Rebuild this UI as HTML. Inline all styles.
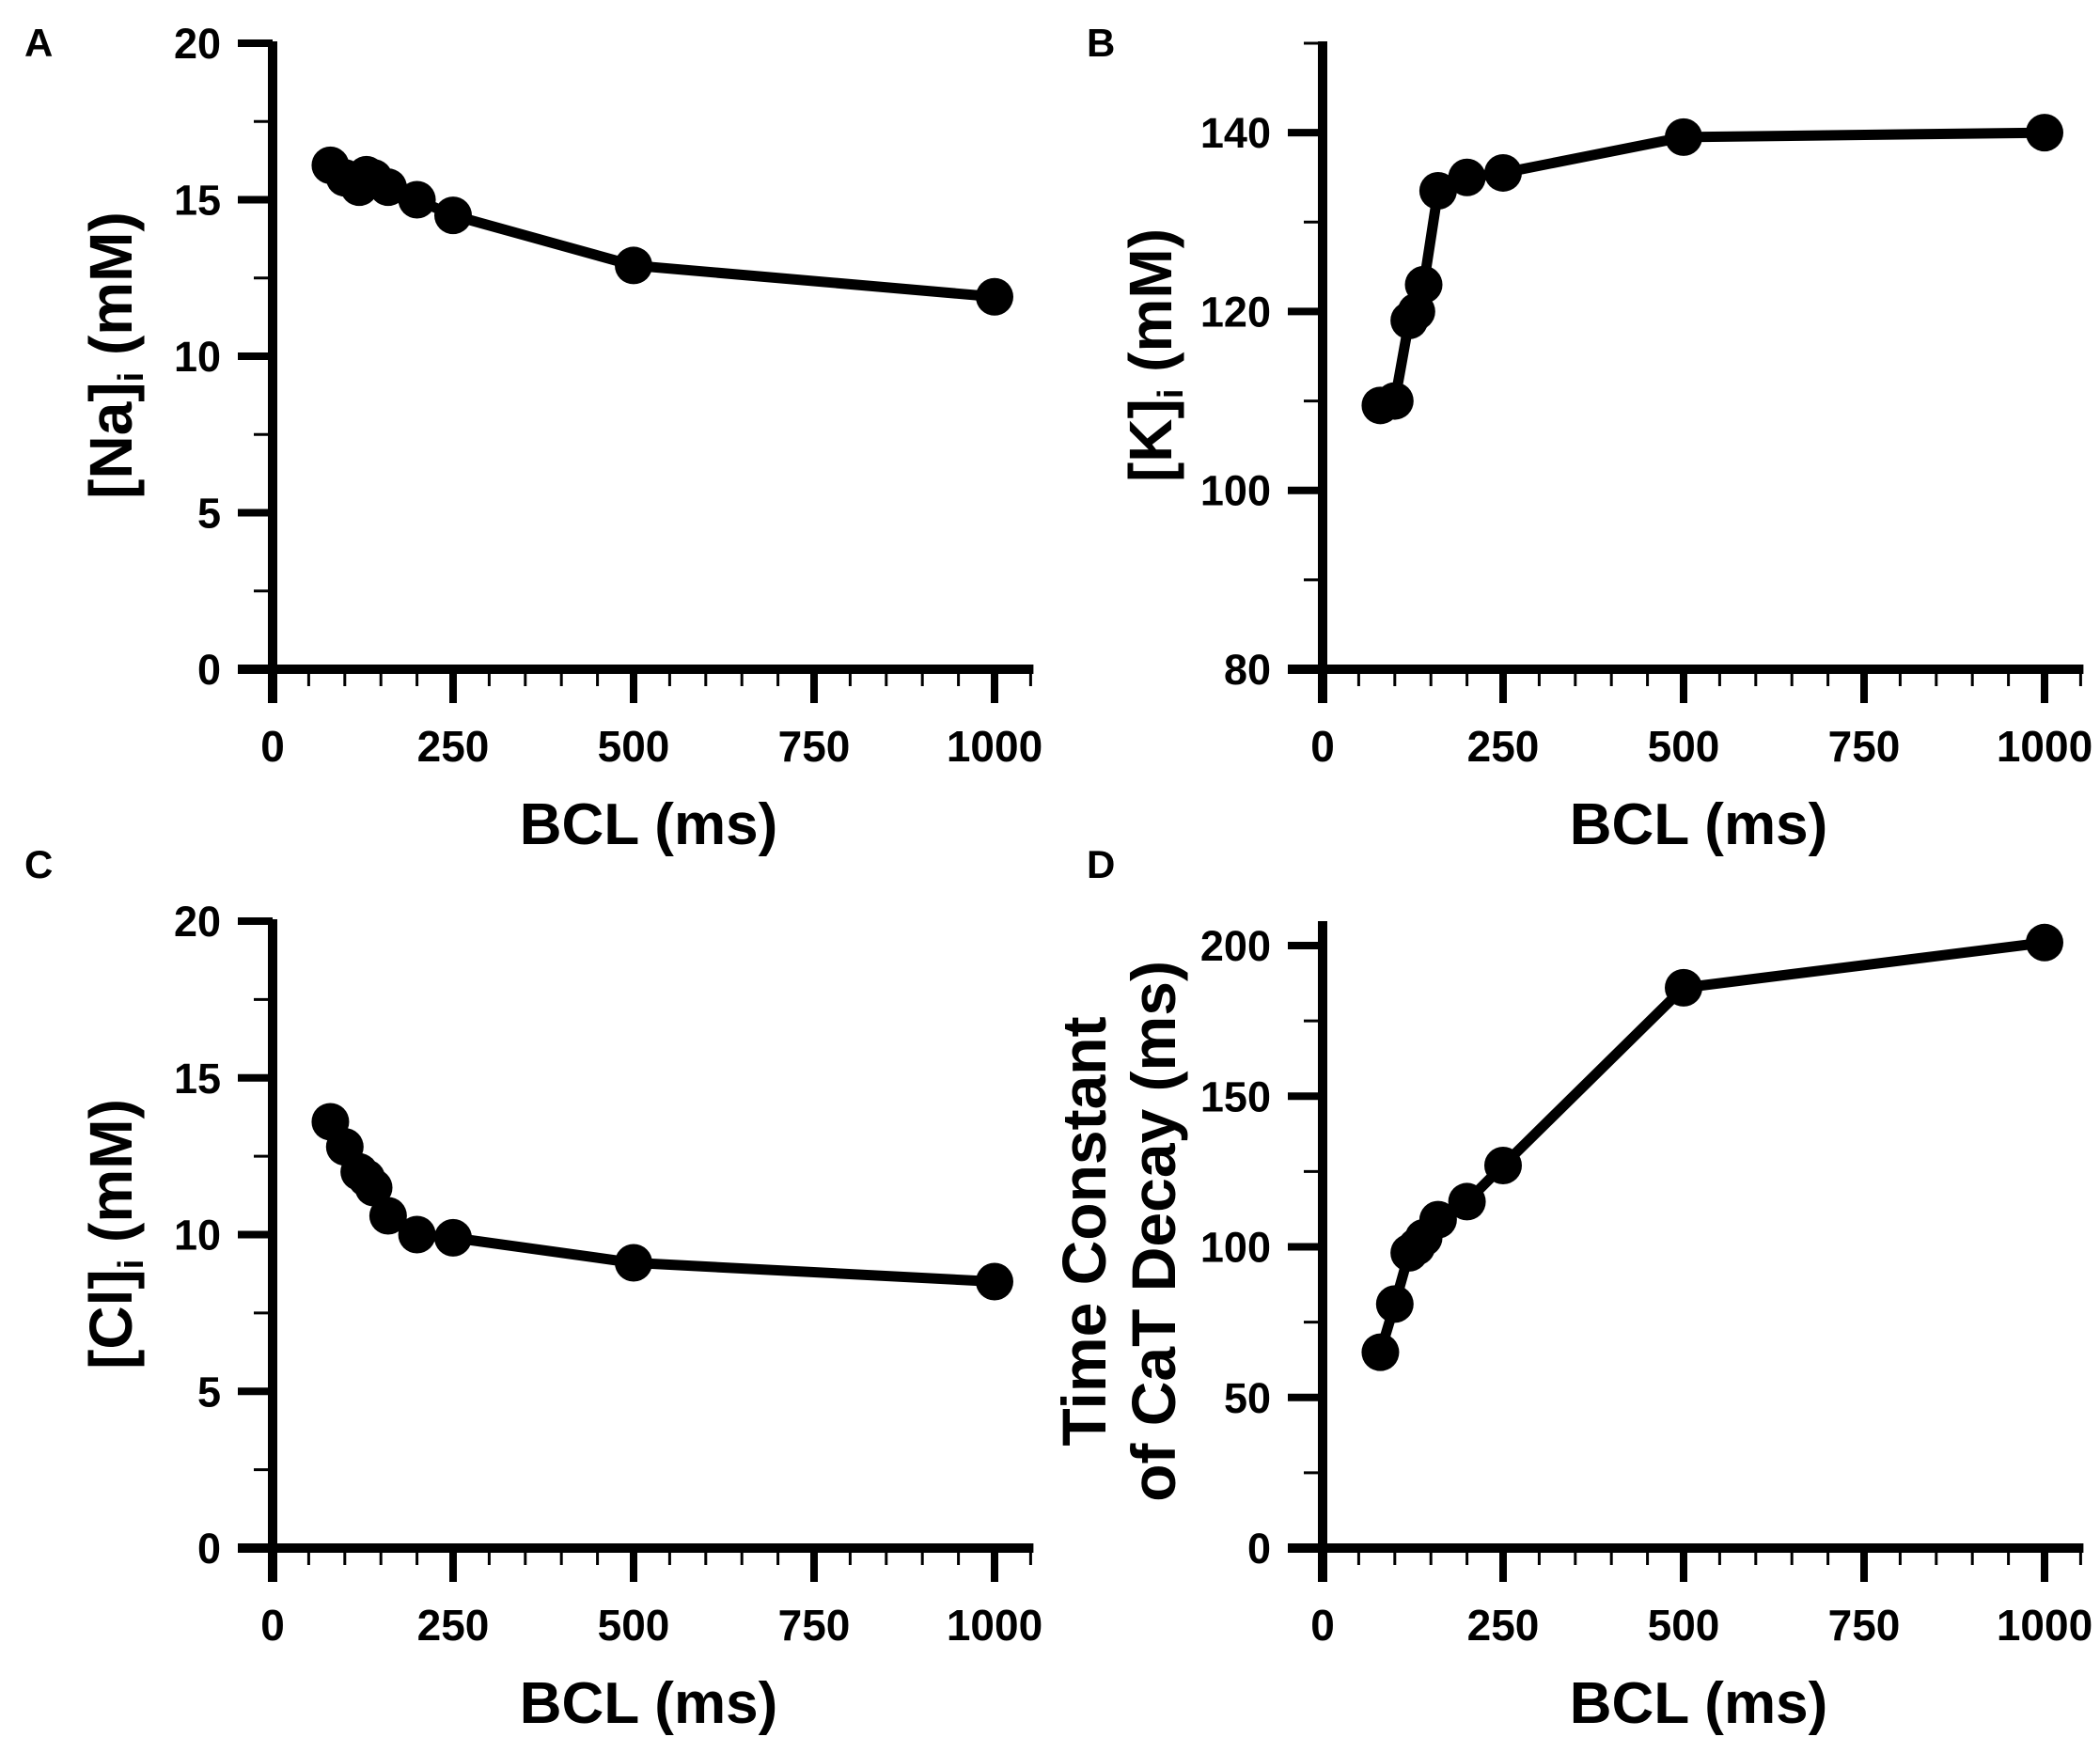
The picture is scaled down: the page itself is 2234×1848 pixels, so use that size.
<!DOCTYPE html>
<html><head><meta charset="utf-8"><style>
html,body{margin:0;padding:0;background:#fff;}
svg{display:block;font-family:"Liberation Sans",Arial,sans-serif;font-weight:bold;}
</style></head><body>
<svg id="fig" width="2234" height="1848" viewBox="0 0 2234 1848" xmlns="http://www.w3.org/2000/svg"></svg>
<script>
const bcl = [80,100,120,130,140,160,200,250,500,1000];
const naValues = [16.1,15.7,15.4,15.8,15.7,15.4,15.0,14.5,12.9,11.9];
const kValues = [109.5,110,119,120,123,133.5,135,135.5,139.5,140];
const clValues = [13.6,12.8,12.0,11.8,11.5,10.6,10.0,9.9,9.1,8.5];
const tauValues = [65,81,98,100,103,109,115,127,186,201];
const xTicks = [0,250,500,750,1000];
const naTicks = [0,5,10,15,20];
const kTicks = [80,100,120,140];
const clTicks = [0,5,10,15,20];
const tauTicks = [0,50,100,150,200];

const NS = "http://www.w3.org/2000/svg";
const svg = document.getElementById('fig');
function el(tag, attrs, parent){
  const e = document.createElementNS(NS, tag);
  for (const k in attrs) e.setAttribute(k, attrs[k]);
  (parent||svg).appendChild(e);
  return e;
}
function panel(o){
  const g = el('g', {});
  
  
  const X0=o.ax, Y0=o.y0, xs=(1058-290)/1000;
  const ys=(o.y0-o.yTopPx)/(o.yMax-o.yMin);
  const sx = v => X0 + v*xs;
  const sy = v => Y0 - (v-o.yMin)*ys;
  const ya = el('line',{x1:X0,y1:o.axTop,x2:X0,y2:Y0+36,stroke:'#000','stroke-width':10},g);
  
  
  const xa = el('line',{x1:X0-37,y1:Y0,x2:sx(1050)+3,y2:Y0,stroke:'#000','stroke-width':10},g);
  
  
  for (let v=o.yMin; v<=o.yMax+1e-9; v+=o.minor){
    const major = o.yTicks.some(t=>Math.abs(t-v)<1e-6);
    el('line',{x1:X0-(major?37:20),y1:sy(v),x2:X0,y2:sy(v),stroke:'#000','stroke-width':major?8:3},g);
  }
  o.yTicks.forEach(t=>{
    const tx = el('text',{x:X0-55,y:sy(t)+16,'text-anchor':'end','font-size':45},g);
    tx.textContent = t;
    
    
  });
  for (let v=50; v<=1050; v+=50){
    const major = xTicks.includes(v);
    el('line',{x1:sx(v),y1:Y0,x2:sx(v),y2:Y0+(major?36:18),stroke:'#000','stroke-width':major?8:3},g);
  }
  xTicks.forEach(t=>{
    const tx = el('text',{x:sx(t),y:Y0+98,'text-anchor':'middle','font-size':46},g);
    tx.textContent = t;
    
    
  });
  const xt = el('text',{x:X0+400,y:Y0+186,'text-anchor':'middle','font-size':62},g);
  xt.textContent = 'BCL (ms)';
  
  
  const yt = el('g',{transform:`translate(${o.ytx},${o.yty}) rotate(-90)`},g);
  
  
  o.ytitle(yt);
  const pl = el('text',{x:o.lx,y:o.ly,'font-size':42},g);
  pl.textContent = o.letter;
  
  
  const pts = bcl.map((b,i)=>sx(b)+','+sy(o.vals[i])).join(' ');
  const pl2 = el('polyline',{points:pts,fill:'none',stroke:'#000','stroke-width':11,'stroke-linejoin':'round'},g);
  
  
  bcl.forEach((b,i)=>{
    const c = el('circle',{cx:sx(b),cy:sy(o.vals[i]),r:20,fill:'#000'},g);
    
    
  });
}
function subTitle(main, unit){
  return function(g){
    const t = el('text',{x:0,y:0,'text-anchor':'middle','font-size':64},g);
    const a = el('tspan',{},t); a.textContent = main;
    const b = el('tspan',{'font-size':38,dy:12}); t.appendChild(b); b.textContent='i';
    const c = el('tspan',{dy:-12}); t.appendChild(c); c.textContent=' '+unit;
  };
}
panel({name:'panel-a-na',letter:'A',lx:26,ly:60,ax:290,y0:712,yTopPx:46,axTop:44,yMin:0,yMax:20,minor:2.5,yTicks:naTicks,vals:naValues,ytx:140,yty:378,ytitle:subTitle('[Na]','(mM)')});
panel({name:'panel-b-k',letter:'B',lx:1156,ly:60,ax:1407,y0:712,yTopPx:46,axTop:44,yMin:80,yMax:150,minor:10,yTicks:kTicks,vals:kValues,ytx:1246,yty:378,ytitle:subTitle('[K]','(mM)')});
panel({name:'panel-c-cl',letter:'C',lx:26,ly:934,ax:290,y0:1647,yTopPx:980,axTop:978,yMin:0,yMax:20,minor:2.5,yTicks:clTicks,vals:clValues,ytx:140,yty:1313,ytitle:subTitle('[Cl]','(mM)')});
panel({name:'panel-d-tau',letter:'D',lx:1156,ly:934,ax:1407,y0:1647,yTopPx:1006,axTop:980,yMin:0,yMax:200,minor:25,yTicks:tauTicks,vals:tauValues,ytx:1176,yty:1310,ytitle:function(g){
  const t1 = el('text',{x:0,y:0,'text-anchor':'middle','font-size':66},g); t1.textContent='Time Constant';
  const t2 = el('text',{x:0,y:74,'text-anchor':'middle','font-size':66},g); t2.textContent='of CaT Decay (ms)';
}});
</script>
</body></html>
